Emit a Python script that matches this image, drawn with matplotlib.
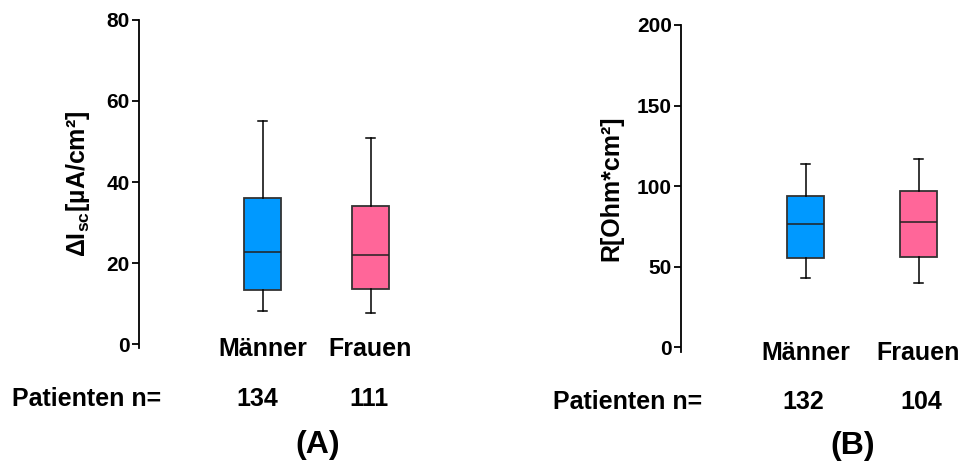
import matplotlib
matplotlib.use("Agg")
import matplotlib.pyplot as plt

plt.rcParams['font.family'] = ['Liberation Sans', 'DejaVu Sans']
plt.rcParams['font.weight'] = 'bold'
plt.rcParams['mathtext.fontset'] = 'custom'
plt.rcParams['mathtext.rm'] = 'Liberation Sans:bold'
plt.rcParams['mathtext.bf'] = 'Liberation Sans:bold'
plt.rcParams['mathtext.default'] = 'bf'

groups = ['Männer', 'Frauen']
colors = ['#0099ff', '#ff6699']

# panel A: delta Isc
isc_whislo = [8.3, 7.8]
isc_q1 = [13.5, 13.6]
isc_med = [22.8, 22.0]
isc_q3 = [36.2, 34.0]
isc_whishi = [55.1, 50.8]
isc_n = [134, 111]

# panel B: resistance
r_whislo = [43.1, 39.7]
r_q1 = [55.4, 56.0]
r_med = [76.4, 77.6]
r_q3 = [93.7, 97.3]
r_whishi = [114.0, 116.9]
r_n = [132, 104]

W, H = 960, 466
fig = plt.figure(figsize=(W / 100, H / 100), dpi=100)


def px_axes(left, right, top, bottom):
    return fig.add_axes([left / W, 1 - bottom / H, (right - left) / W, (bottom - top) / H])


def draw_panel(ax, whislo, q1, med, q3, whishi, width, ylim, yticks, ylabel):
    stats = []
    for i, g in enumerate(groups):
        stats.append(dict(label=g, whislo=whislo[i], q1=q1[i], med=med[i],
                          q3=q3[i], whishi=whishi[i], fliers=[]))
    bp = ax.bxp(stats, positions=[1, 2], widths=width, patch_artist=True,
                showfliers=False, capwidths=0.075,
                boxprops=dict(edgecolor='#333333', linewidth=1.3),
                medianprops=dict(color='#222222', linewidth=1.1),
                whiskerprops=dict(color='black', linewidth=1.1),
                capprops=dict(color='black', linewidth=1.1))
    for patch, c in zip(bp['boxes'], colors):
        patch.set_facecolor(c)
    ax.set_ylim(*ylim)
    ax.set_yticks(yticks)
    ax.spines[['top', 'right', 'bottom']].set_visible(False)
    ax.spines['left'].set_linewidth(1.3)
    ax.tick_params(axis='y', direction='out', length=5, width=1.3, labelsize=15, pad=1.5)
    ax.tick_params(axis='x', length=0, labelsize=18, pad=-8)
    ax.set_ylabel(ylabel, fontsize=18, fontweight='bold')
    for t in ax.get_xticklabels() + ax.get_yticklabels():
        t.set_fontweight('bold')


# (A)
axA = px_axes(139, 440, 19.7, 347.7)
axA.set_xlim(1 - (262.5 - 139) / 108, 2 + (440 - 370.5) / 108)
draw_panel(axA, isc_whislo, isc_q1, isc_med, isc_q3, isc_whishi, 0.343,
           (-0.8, 80), [0, 20, 40, 60, 80], 'ΔI$_{sc}$[µA/cm²]')
axA.yaxis.set_label_coords(-0.155, 0.5)

# (B)
axB = px_axes(681, 960, 25, 352.3)
axB.set_xlim(1 - (805.7 - 681) / 112.8, 2 + (960 - 918.5) / 112.8)
draw_panel(axB, r_whislo, r_q1, r_med, r_q3, r_whishi, 0.328,
           (-3, 200), [0, 50, 100, 150, 200], 'R[Ohm*cm²]')
axB.yaxis.set_label_coords(-0.207, 0.5)

# patient counts and panel letters
fs = 18
fig.text(12 / W, 1 - 399 / H, 'Patienten n=', fontsize=fs, fontweight='bold',
         ha='left', va='center')
for x, n in zip([257, 369], isc_n):
    fig.text(x / W, 1 - 399 / H, str(n), fontsize=fs, fontweight='bold',
             ha='center', va='center')
fig.text(553 / W, 1 - 402 / H, 'Patienten n=', fontsize=fs, fontweight='bold',
         ha='left', va='center')
for x, n in zip([803, 921], r_n):
    fig.text(x / W, 1 - 402 / H, str(n), fontsize=fs, fontweight='bold',
             ha='center', va='center')
fig.text(318 / W, 1 - 445 / H, '(A)', fontsize=23, fontweight='bold', ha='center', va='center')
fig.text(853 / W, 1 - 446 / H, '(B)', fontsize=23, fontweight='bold', ha='center', va='center')

fig.savefig('out.png', dpi=100)
